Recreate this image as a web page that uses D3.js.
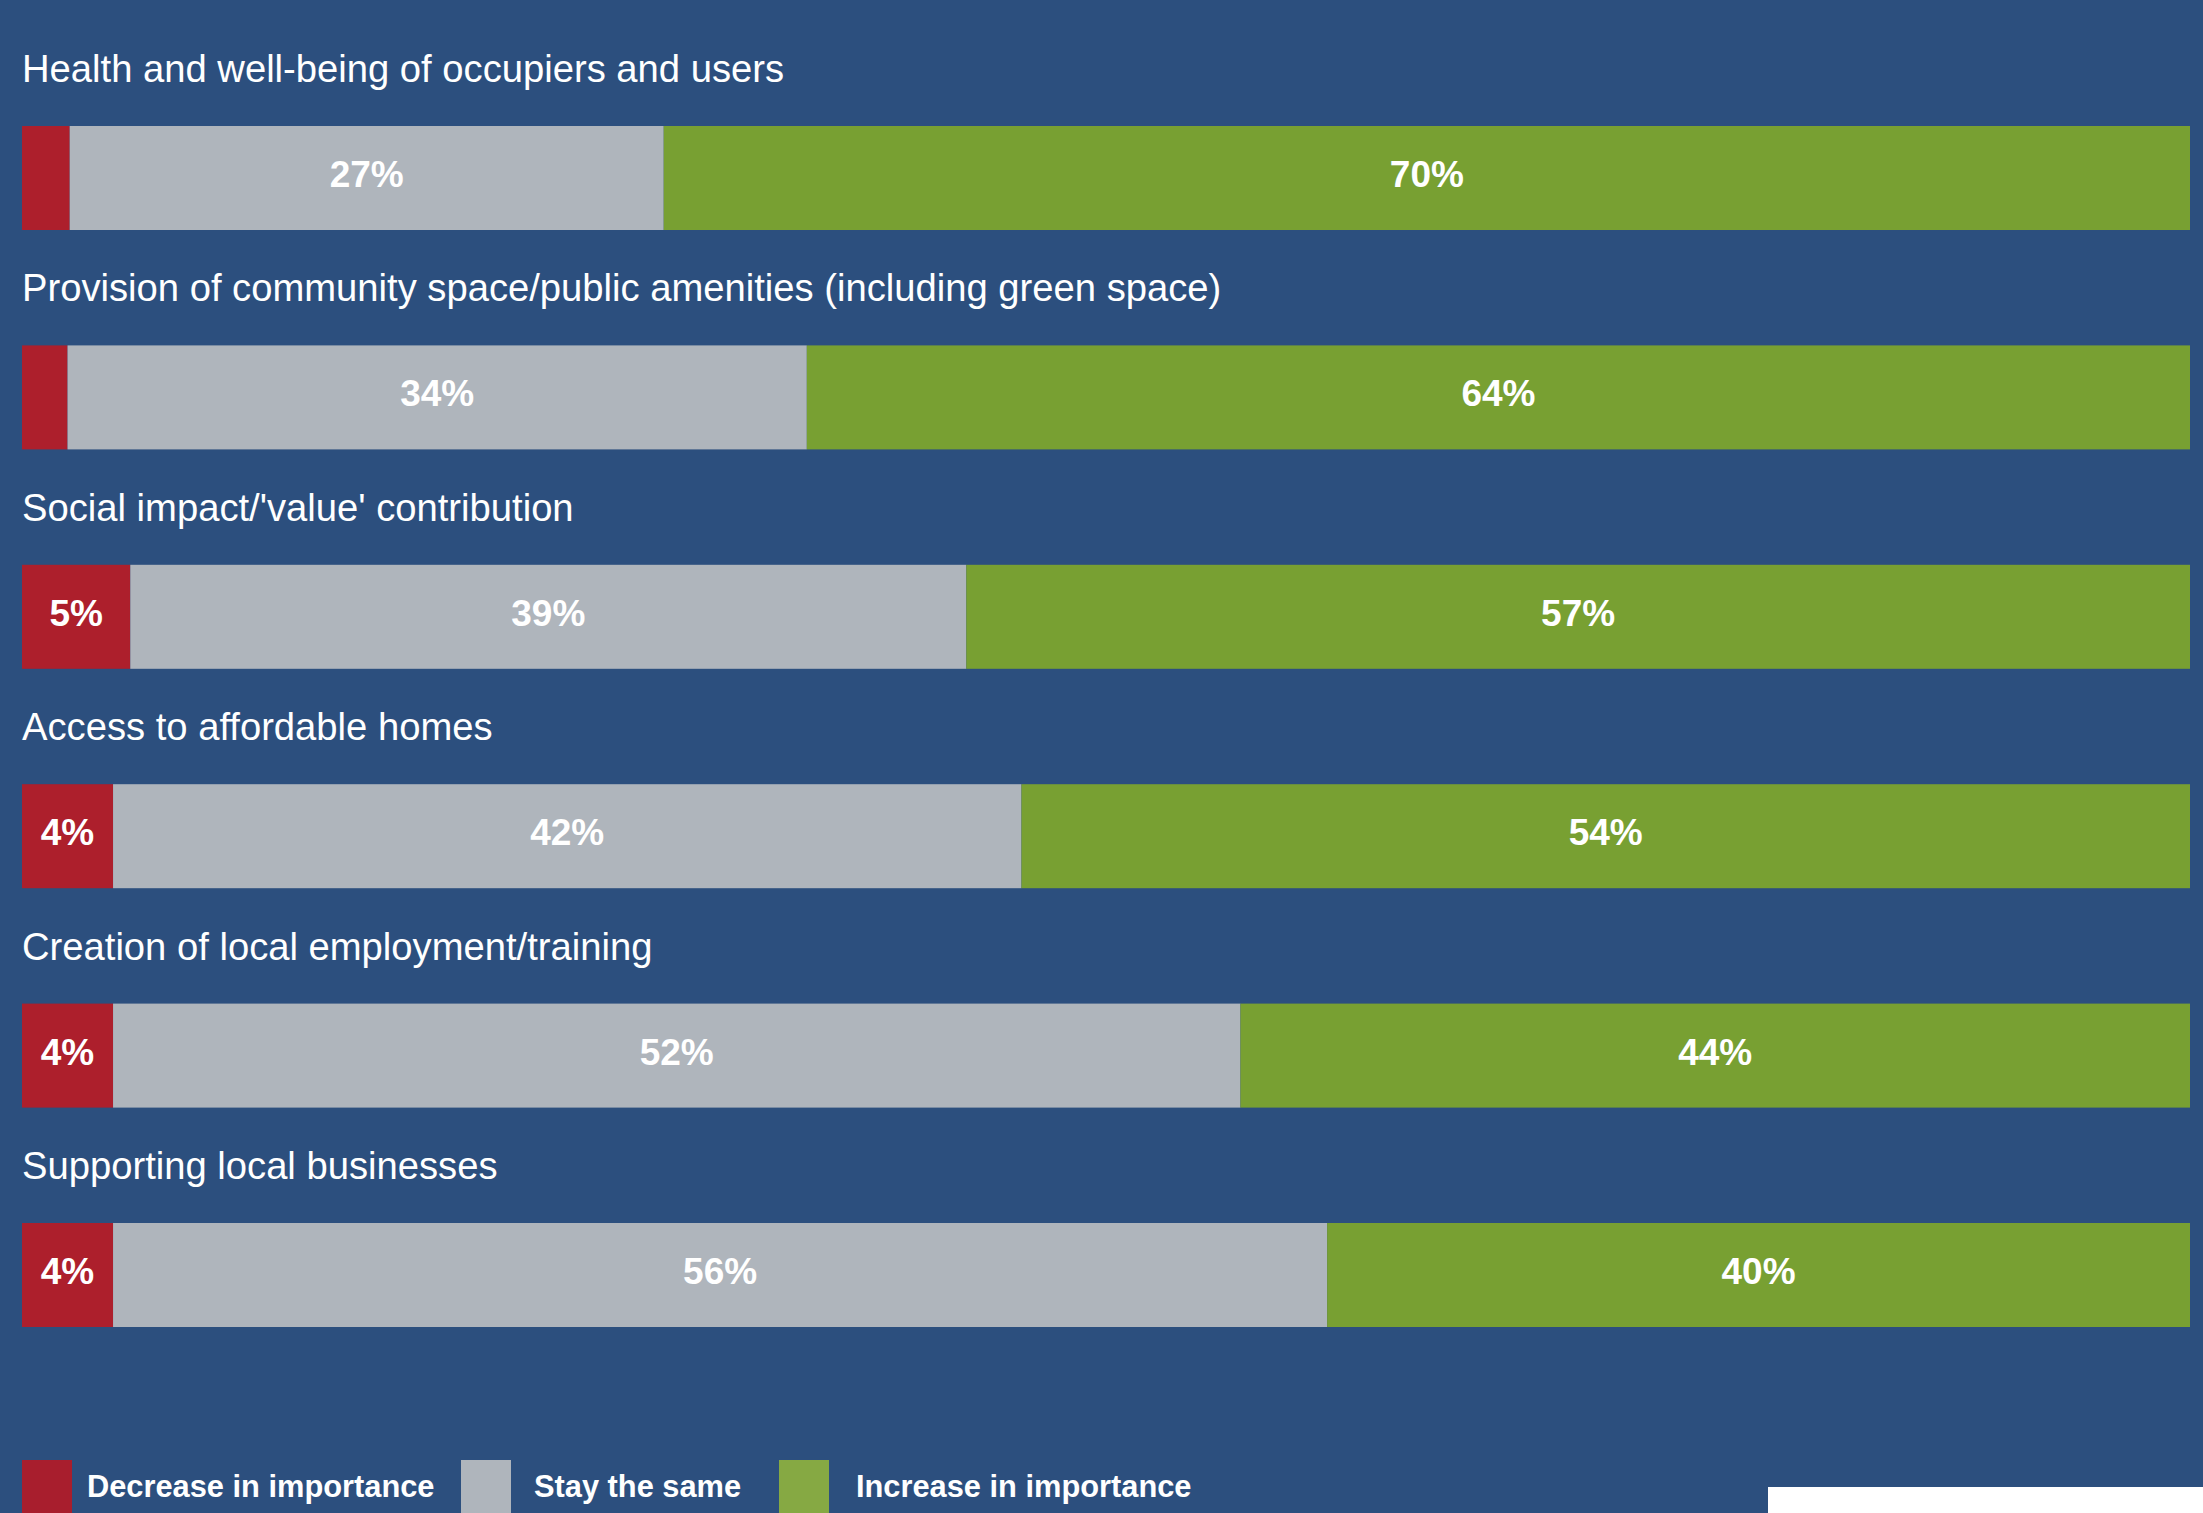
<!DOCTYPE html>
<html>
<head>
<meta charset="utf-8">
<script src="https://cdn.jsdelivr.net/npm/d3@7"></script>
<style>
  html, body { margin: 0; padding: 0; background: #2c4f7e; }
  svg { display: block; }
</style>
</head>
<body>
<svg id="chart" width="2203" height="1513"></svg>
<script>
const categories = [
  "Health and well-being of occupiers and users",
  "Provision of community space/public amenities (including green space)",
  "Social impact/'value' contribution",
  "Access to affordable homes",
  "Creation of local employment/training",
  "Supporting local businesses"
];
const decrease = [2.2, 2.1, 5.0, 4.2, 4.2, 4.2];
const same     = [27.4, 34.1, 38.6, 41.9, 52.0, 56.0];
const increase = [70.4, 63.8, 56.5, 53.9, 43.8, 39.8];
const seriesNames = ["Decrease in importance", "Stay the same", "Increase in importance"];

const W = 2203, H = 1513;
const barColors = ["#ad1f2c", "#afb5bc", "#78a032"];
const legendColors = ["#a81e2d", "#afb5bc", "#86a943"];
const bg = "#2c4f7e";

const svg = d3.select("#chart");
svg.append("rect").attr("width", W).attr("height", H).attr("fill", bg);

const rows = categories.map((c, i) => {
  const vals = [decrease[i], same[i], increase[i]];
  const total = d3.sum(vals);
  let acc = 0;
  const segs = vals.map((v, k) => {
    const s = { k, v, x0: acc / total * 100, x1: (acc + v) / total * 100 };
    acc += v;
    return s;
  });
  return { c, segs };
});

const y = d3.scaleBand().domain(categories).range([126, 1327]).paddingInner(1 - 104 / 219.4).paddingOuter(0);
const x = d3.scaleLinear().domain([0, 100]).range([22, 2190]);

const font = "'Liberation Sans', Arial, Helvetica, sans-serif";

const g = svg.selectAll("g.row").data(rows).join("g").attr("class", "row")
  .attr("transform", d => `translate(0,${y(d.c)})`);

g.append("text")
  .attr("x", 22).attr("y", -44)
  .attr("fill", "#ffffff")
  .attr("font-family", font)
  .attr("font-size", 38.2)
  .text(d => d.c);

g.selectAll("rect.seg").data(d => d.segs).join("rect").attr("class", "seg")
  .attr("x", s => x(s.x0))
  .attr("width", s => x(s.x1) - x(s.x0))
  .attr("y", 0)
  .attr("height", y.bandwidth())
  .attr("fill", s => barColors[s.k]);

g.selectAll("text.lab").data(d => d.segs.filter(s => s.v >= 4)).join("text").attr("class", "lab")
  .attr("x", s => (x(s.x0) + x(s.x1)) / 2)
  .attr("y", 61)
  .attr("text-anchor", "middle")
  .attr("fill", "#ffffff")
  .attr("font-family", font)
  .attr("font-weight", "bold")
  .attr("font-size", 37)
  .text(s => Math.round(s.v) + "%");

// Legend
const legendX = [22, 461, 779];
const legendTextX = [87, 534, 856];
const lg = svg.append("g");
seriesNames.forEach((n, i) => {
  lg.append("rect").attr("x", legendX[i]).attr("y", 1460).attr("width", 50).attr("height", 53).attr("fill", legendColors[i]);
  lg.append("text").attr("x", legendTextX[i]).attr("y", 1497)
    .attr("fill", "#ffffff").attr("font-family", font).attr("font-weight", "bold")
    .attr("font-size", 30.8).text(n);
});

// white corner block
svg.append("rect").attr("x", 1768).attr("y", 1487).attr("width", W - 1768).attr("height", H - 1487).attr("fill", "#ffffff");
</script>
</body>
</html>
